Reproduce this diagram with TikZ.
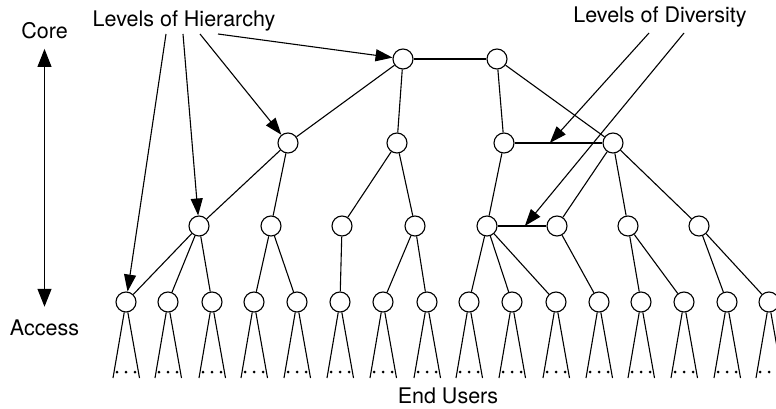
\documentclass[tikz,border=0pt]{standalone}
\usepackage{fontspec}
\setmainfont{TeX Gyre Heros}
\usetikzlibrary{arrows.meta, calc}

\begin{document}
\begin{tikzpicture}[
        x=1pt, y=-1pt, line width=1.1pt,
        router/.style={circle, draw, fill=white, minimum size=20pt, inner sep=0pt},
        tag/.style={font=\fontsize{21.5}{25}\selectfont, inner sep=0pt, anchor=base},
        arrow/.style={-{Triangle[length=17pt,width=12pt]}},
        span/.style={{Triangle[length=18pt,width=14pt]}-{Triangle[length=18pt,width=14pt]}}
    ]
        \useasboundingbox (0,0) rectangle (776,409);

        % Labels
        \node[tag] (core) at (44.5,39) {Core};
        \node[tag] (access) at (44.5,335) {Access};
        \node[tag] (hier) at (184,27) {Levels of Hierarchy};
        \node[tag] (div) at (660,23) {Levels of Diversity};
        \node[tag] (users) at (448,403) {End Users};

        % Core
        \node[router] (c1) at (403,59) {};
        \node[router] (c2) at (497,59) {};

        % Distribution
        \node[router] (d1) at (288,143) {};
        \node[router] (d2) at (397,143) {};
        \node[router] (d3) at (504,143) {};
        \node[router] (d4) at (613,143) {};

        % Aggregation
        \node[router] (g1) at (199,226) {};
        \node[router] (g2) at (271,226) {};
        \node[router] (g3) at (342,226) {};
        \node[router] (g4) at (415,226) {};
        \node[router] (g5) at (487,226) {};
        \node[router] (g6) at (557,226) {};
        \node[router] (g7) at (628,226) {};
        \node[router] (g8) at (699,226) {};

        % Access
        \foreach \i/\x in {1/126,2/168,3/212,4/254,5/297,6/340,7/383,8/427,
                           9/469,10/512,11/556,12/599,13/641,14/684,15/727,16/769} {
            \node[router] (a\i) at (\x,302) {};
            \coordinate (fl\i) at ($(a\i)+(-13,76)$);
            \coordinate (fr\i) at ($(a\i)+(13.5,76)$);
            \draw (fl\i) -- (a\i) -- (fr\i);
            \foreach \dx in {-9,0,9}
                \fill ($(a\i)+(\dx,70)$) circle (1.5);
        }

        % Links
        \draw (c1) -- (c2);
        \draw (c1) -- (d1);
        \draw (c1) -- (d2);
        \draw (c2) -- (d3);
        \draw (c2) -- (d4);
        \draw (d3) -- (d4);

        \draw (d1) -- (g1);
        \draw (d1) -- (g2);
        \draw (d2) -- (g3);
        \draw (d2) -- (g4);
        \draw (d3) -- (g5);
        \draw (d4) -- (g6);
        \draw (d4) -- (g7);
        \draw (d4) -- (g8);
        \draw (g5) -- (g6);

        \draw (g1) -- (a1);
        \draw (g1) -- (a2);
        \draw (g1) -- (a3);
        \draw (g2) -- (a4);
        \draw (g2) -- (a5);
        \draw (g3) -- (a6);
        \draw (g4) -- (a7);
        \draw (g4) -- (a8);
        \draw (g5) -- (a9);
        \draw (g5) -- (a10);
        \draw (g5) -- (a11);
        \draw (g6) -- (a12);
        \draw (g7) -- (a13);
        \draw (g7) -- (a14);
        \draw (g8) -- (a15);
        \draw (g8) -- (a16);

        % Core / Access span
        \draw[span, shorten <=9pt, shorten >=12pt] (core) -- (access);

        % Hierarchy pointers
        \coordinate (h1) at (166,34);
        \coordinate (h2) at (183,34);
        \coordinate (h3) at (200,34);
        \coordinate (h4) at (218,34);
        \draw[arrow] (h1) -- (a1);
        \draw[arrow] (h2) -- (g1);
        \draw[arrow] (h3) -- (d1);
        \draw[arrow] (h4) -- (c1);

        % Diversity pointers
        \coordinate (v1) at (649,33);
        \coordinate (v2) at (684,33);
        \coordinate (m1) at ($(d3)!0.42!(d4)$);
        \coordinate (m2) at ($(g5)!0.54!(g6)$);
        \draw[arrow] (v1) -- (m1);
        \draw[arrow] (v2) -- (m2);
    \end{tikzpicture}
\end{document}
